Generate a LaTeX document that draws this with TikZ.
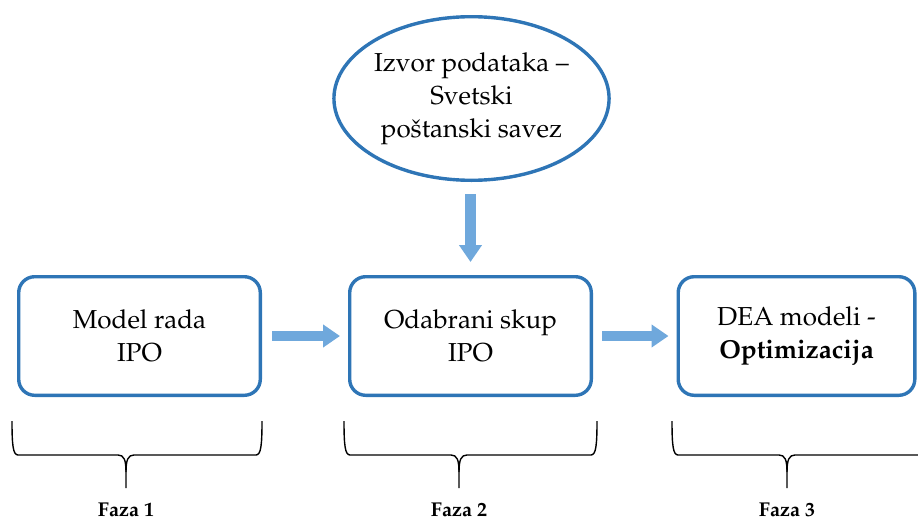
\documentclass[tikz,border=0pt]{standalone}
\usepackage[T1]{fontenc}
\usepackage{mathpazo}
\usetikzlibrary{shapes.geometric,arrows.meta}

\definecolor{frameblue}{RGB}{46,117,182}
\definecolor{arrowblue}{RGB}{111,168,220}

\newcommand{\mainsize}{\fontsize{26}{33}\selectfont}
\newcommand{\phasesize}{\fontsize{20}{24}\selectfont}

\tikzset{
  stage/.style={draw=frameblue, line width=3.4pt, rounded corners=16pt, fill=white,
    minimum width=241.6pt, minimum height=118.6pt, align=center, font=\mainsize, inner sep=0pt},
  source/.style={ellipse, draw=frameblue, line width=3.4pt, fill=white,
    minimum width=259.6pt, minimum height=163.6pt, align=center, font=\mainsize, inner sep=0pt},
  flow/.style={draw=arrowblue, line width=10.5pt, -{Triangle[width=22pt,length=17pt]}},
  phase/.style={font=\phasesize\bfseries, anchor=base, inner sep=0pt},
  bracket/.style={line width=1.4pt, black},
}

% curly brace under a stage: left end, tip, right end
\newcommand{\phasebrace}[3]{%
  \draw[bracket] (#1,421) .. controls (#1,445) and (#1+1,455) .. (#1+6,455)
    -- (#2-8,455) .. controls (#2-2,455) and (#2,460) .. (#2,472) -- (#2,488);
  \draw[bracket] (#2,472) .. controls (#2,460) and (#2+2,455) .. (#2+8,455)
    -- (#3-6,455) .. controls (#3-1,455) and (#3,445) .. (#3,421);
}

\begin{document}
\begin{tikzpicture}[x=1pt,y=-1pt]
  \useasboundingbox (0,0) rectangle (918,522);
  \clip (0,0) rectangle (918,522);

  \node[source] (src) at (471.5,98.5) {Izvor podataka --\\Svetski\\po\v{s}tanski savez};

  \node[stage] (b1) at (139.5,336) {Model rada\\IPO};
  \node[stage] (b2) at (470.5,336) {Odabrani skup\\IPO};
  \node[stage, minimum width=236.6pt] (b3) at (796.5,336) {DEA modeli -\\\textbf{Optimizacija}};

  \draw[flow, shorten <=10pt, shorten >=8pt] (b1) -- (b2);
  \draw[flow, shorten <=9pt, shorten >=8pt] (b2) -- (b3);
  \draw[flow, shorten <=12pt, shorten >=13pt] (b2.north |- src.south) -- (b2.north);

  \phasebrace{12}{126}{262}
  \phasebrace{344}{459}{597}
  \phasebrace{672}{787}{924}

  \node[phase] (f1) at (126,516.5) {Faza 1};
  \node[phase] (f2) at (459,516.5) {Faza 2};
  \node[phase] (f3) at (787,516.5) {Faza 3};
\end{tikzpicture}
\end{document}
